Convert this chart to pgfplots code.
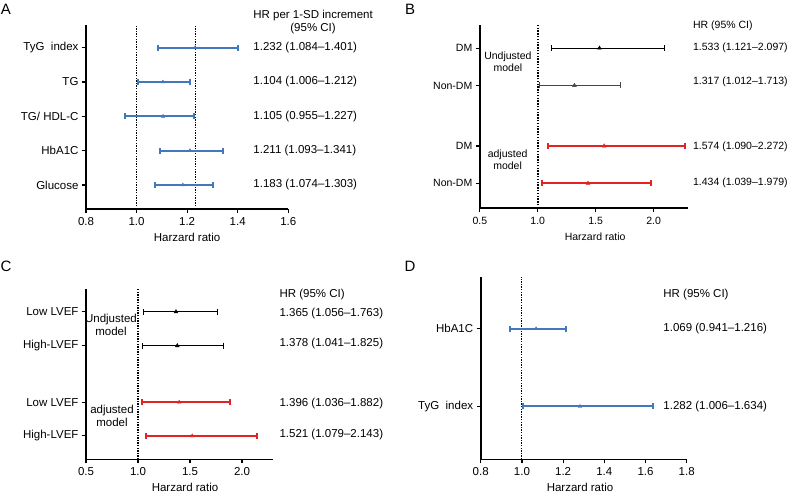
\documentclass[border=0pt]{standalone}
\usepackage{fontspec}
\setmainfont{Liberation Sans}
\usepackage{pgfplots}
\pgfplotsset{compat=1.18}
\usepackage{pgfplotstable}

\definecolor{hrblue}{RGB}{66,120,190}
\definecolor{hrred}{RGB}{225,35,35}
\definecolor{hrgray}{RGB}{70,70,70}

% Panel A
\pgfplotstableread{
row hr lo hi
5 1.232 1.084 1.401
4 1.104 1.006 1.212
3 1.105 0.955 1.227
2 1.211 1.093 1.341
1 1.183 1.074 1.303
}\tabA
% Panel B
\pgfplotstableread{
row hr lo hi
4.29 1.533 1.121 2.097
3.29 1.317 1.012 1.713
}\tabBu
\pgfplotstableread{
row hr lo hi
1.67 1.574 1.090 2.272
0.67 1.434 1.039 1.979
}\tabBa
% Panel C
\pgfplotstableread{
row hr lo hi
4.34 1.365 1.056 1.763
3.34 1.378 1.041 1.825
}\tabCu
\pgfplotstableread{
row hr lo hi
1.68 1.396 1.036 1.882
0.69 1.521 1.079 2.143
}\tabCa
% Panel D
\pgfplotstableread{
row hr lo hi
2 1.069 0.941 1.216
1 1.282 1.006 1.634
}\tabD

\pgfplotsset{
  fp/.style={
    scale only axis, clip=false,
    axis x line*=bottom, axis y line*=left,
    axis line style={line width=1.6pt},
    tick align=outside, major tick length=4pt,
    tick style={line width=1.2pt, black},
    font=\fontsize{11.5}{13}\selectfont,
    /pgf/number format/assume math mode=true,
    /pgf/number format/fixed, /pgf/number format/fixed zerofill,
    /pgf/number format/precision=1,
    xlabel={Harzard ratio},
    xticklabel style={yshift=-1pt},
  },
  cip/.style args={#1/#2/#3}{only marks, mark=triangle*, mark size=#2, color=#1,
    error bars/.cd, x dir=both, x explicit,
    error mark=|,
    error bar style={line width=#3, solid},
    error mark options={line width=#3, mark size=3pt, solid}},
  /pgfplots/table/ciT/.style={x=hr, y=row,
   x error plus expr=\thisrow{hi}-\thisrow{hr},
   x error minus expr=\thisrow{hr}-\thisrow{lo}},
}
\tikzset{val/.style={anchor=west, inner xsep=0pt}}

\begin{document}
\begin{tikzpicture}[x=1pt,y=1pt]
\useasboundingbox (0,0) rectangle (796,496);
\node[font=\fontsize{15}{15}\selectfont] at (6,487) {A};
\node[font=\fontsize{15}{15}\selectfont] at (410,487) {B};
\node[font=\fontsize{15}{15}\selectfont] at (6,230) {C};
\node[font=\fontsize{15}{15}\selectfont] at (410,230) {D};

% ---------- A ----------
\begin{axis}[fp, at={(86pt,287pt)}, anchor=south west,
  width=202.3pt, height=184pt,
  xmin=0.8, xmax=1.6, ymin=0.30, ymax=5.66,
  xtick={0.8,1.0,1.2,1.4,1.6},
  ytick={1,2,3,4,5},
  yticklabels={Glucose,HbA1C,TG/ HDL-C,TG,TyG\ \ index},
  xlabel style={at={(axis description cs:0.5,0)}, anchor=center, yshift=-28pt}]
\addplot[black, line width=0.6pt, dash pattern=on 1.3pt off 1.3pt] coordinates {(1,0.30) (1,5.66)};
\addplot[black, line width=0.6pt, dash pattern=on 1.3pt off 1.3pt] coordinates {(1.232,0.30) (1.232,5.66)};
\addplot[cip={hrblue/2pt/2pt}] table[ciT] {\tabA};
\node[align=center] at (axis cs:1.698,5.74) {HR per 1-SD increment\\(95\% CI)};
\node[val] at (axis cs:1.4615,5) {1.232 (1.084--1.401)};
\node[val] at (axis cs:1.4615,4) {1.104 (1.006--1.212)};
\node[val] at (axis cs:1.4615,3) {1.105 (0.955--1.227)};
\node[val] at (axis cs:1.4615,2) {1.211 (1.093--1.341)};
\node[val] at (axis cs:1.4615,1) {1.183 (1.074--1.303)};
\end{axis}

% ---------- B ----------
\begin{axis}[fp, at={(479.8pt,287.7pt)}, anchor=south west,
  width=208.5pt, height=183.3pt,
  font=\fontsize{10.5}{12}\selectfont,
  xmin=0.5, xmax=2.3, ymin=0, ymax=4.91,
  xtick={0.5,1.0,1.5,2.0},
  ytick={0.67,1.67,3.29,4.29},
  yticklabels={Non-DM,DM,Non-DM,DM},
  xlabel style={at={(axis description cs:0.553,0)}, anchor=center, yshift=-28pt}]
\addplot[black, line width=1.6pt, dash pattern=on 1.4pt off 1.4pt] coordinates {(1,0) (1,4.91)};
\addplot[cip={black/2.2pt/1.2pt}] table[ciT, skip coords between index={1}{2}] {\tabBu};
\addplot[cip={hrgray/2.2pt/1.2pt}] table[ciT, skip coords between index={0}{1}] {\tabBu};
\addplot[cip={hrred/2.2pt/2pt}] table[ciT] {\tabBa};
\node[align=center] at (axis cs:0.743,3.92) {Undjusted\\model};
\node[align=center] at (axis cs:0.74,1.29) {adjusted\\model};
\node[val] at (axis cs:2.34,4.90) {HR (95\% CI)};
\node[val] at (axis cs:2.34,4.29) {1.533 (1.121--2.097)};
\node[val] at (axis cs:2.34,3.39) {1.317 (1.012--1.713)};
\node[val] at (axis cs:2.34,1.65) {1.574 (1.090--2.272)};
\node[val] at (axis cs:2.34,0.69) {1.434 (1.039--1.979)};
\end{axis}

% ---------- C ----------
\begin{axis}[fp, at={(86pt,36.7pt)}, anchor=south west,
  width=187.2pt, height=170pt,
  xmin=0.5, xmax=2.3, ymin=0, ymax=5.0,
  xtick={0.5,1.0,1.5,2.0},
  ytick={0.69,1.68,3.34,4.34},
  yticklabels={High-LVEF,Low LVEF,High-LVEF,Low LVEF},
  xlabel style={at={(axis description cs:0.529,0)}, anchor=center, yshift=-28pt}]
\addplot[black, line width=1.3pt, dash pattern=on 1.3pt off 1.3pt] coordinates {(1,0) (1,5.0)};
\addplot[cip={black/2.2pt/1.2pt}] table[ciT] {\tabCu};
\addplot[cip={hrred/2pt/2pt}] table[ciT] {\tabCa};
\node[align=center] at (axis cs:0.74,3.95) {Undjusted\\model};
\node[align=center] at (axis cs:0.75,1.27) {adjusted\\model};
\node[val] at (axis cs:2.359,4.85) {HR (95\% CI)};
\node[val] at (axis cs:2.359,4.29) {1.365 (1.056--1.763)};
\node[val] at (axis cs:2.359,3.41) {1.378 (1.041--1.825)};
\node[val] at (axis cs:2.359,1.63) {1.396 (1.036--1.882)};
\node[val] at (axis cs:2.359,0.74) {1.521 (1.079--2.143)};
\end{axis}

% ---------- D ----------
\begin{axis}[fp, at={(480.7pt,36.7pt)}, anchor=south west,
  width=206pt, height=182.6pt,
  xmin=0.8, xmax=1.8, ymin=0.32, ymax=2.67,
  xtick={0.8,1.0,1.2,1.4,1.6,1.8},
  ytick={1,2},
  yticklabels={TyG\ \ index,HbA1C},
  xlabel style={at={(axis description cs:0.482,0)}, anchor=center, yshift=-28pt}]
\addplot[black, line width=1.0pt, dash pattern=on 1.3pt off 1.3pt] coordinates {(1,0.32) (1,2.67)};
\addplot[cip={hrblue/2pt/2pt}] table[ciT] {\tabD};
\node[val] at (axis cs:1.686,2.44) {HR (95\% CI)};
\node[val] at (axis cs:1.686,2) {1.069 (0.941--1.216)};
\node[val] at (axis cs:1.686,1) {1.282 (1.006--1.634)};
\end{axis}
\end{tikzpicture}
\end{document}
